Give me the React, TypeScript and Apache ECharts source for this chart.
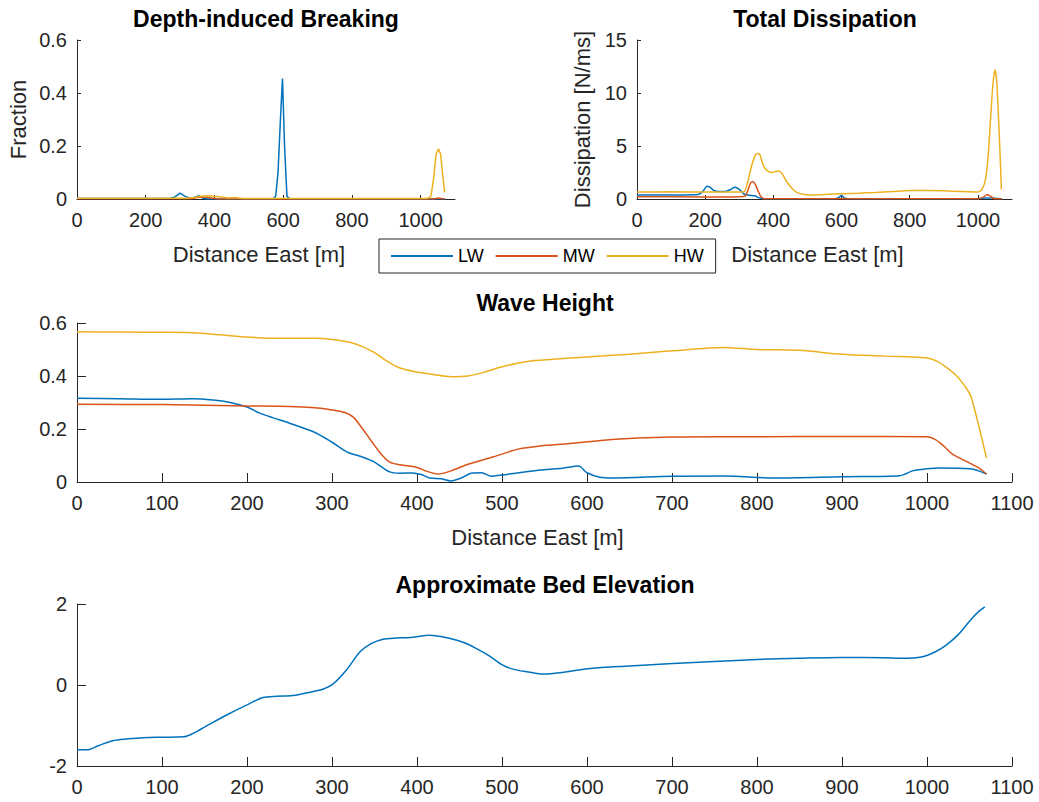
import React, { useEffect, useRef } from "react";
import * as echarts from "echarts";

// ---------- Data ----------
// Depth-induced breaking fraction
const fracLW_x = [0, 270, 285, 300, 315, 330, 345, 355, 365, 380, 570, 578, 585, 592, 598, 604, 611, 620, 1070];
const fracLW_y = [0.002, 0.002, 0.008, 0.022, 0.01, 0.002, 0.008, 0.012, 0.004, 0.0, 0.0, 0.01, 0.1, 0.3, 0.455, 0.2, 0.01, 0, 0];
const fracMW_x = [0, 330, 350, 370, 390, 410, 1040, 1050, 1060, 1070];
const fracMW_y = [0.001, 0.001, 0.006, 0.008, 0.004, 0, 0, 0.004, 0.002, 0];
const fracHW_x = [0, 320, 340, 360, 380, 400, 420, 440, 460, 480, 1020, 1030, 1038, 1045, 1052, 1058, 1065, 1070];
const fracHW_y = [0.003, 0.003, 0.006, 0.01, 0.012, 0.01, 0.008, 0.004, 0.006, 0.002, 0.002, 0.01, 0.08, 0.17, 0.189, 0.17, 0.08, 0.025];

// Total dissipation [N/ms]
const dissLW_x = [0, 100, 180, 195, 205, 215, 225, 240, 260, 275, 287, 300, 315, 330, 345, 360, 380, 580, 592, 600, 608, 620, 1000, 1020, 1040, 1070];
const dissLW_y = [0.38, 0.38, 0.42, 0.8, 1.2, 1.1, 0.8, 0.7, 0.72, 0.9, 1.1, 0.9, 0.45, 0.35, 0.3, 0.1, 0.02, 0.02, 0.15, 0.35, 0.1, 0.02, 0.02, 0.1, 0.1, 0.02];
const dissMW_x = [0, 200, 300, 318, 325, 333, 340, 348, 356, 362, 370, 380, 1000, 1015, 1026, 1036, 1046, 1070];
const dissMW_y = [0.22, 0.2, 0.22, 0.3, 0.8, 1.5, 1.65, 1.3, 0.7, 0.3, 0.05, 0.02, 0.03, 0.15, 0.4, 0.3, 0.05, 0.02];
const dissHW_x = [0, 100, 200, 300, 315, 325, 335, 345, 352, 360, 368, 375, 385, 395, 405, 415, 425, 440, 455, 470, 490, 510, 550, 600, 650, 700, 750, 800, 850, 900, 950, 1000, 1012, 1022, 1030, 1038, 1044, 1050, 1055, 1060, 1064, 1069];
const dissHW_y = [0.65, 0.68, 0.66, 0.65, 0.7, 1.6, 3.0, 4.0, 4.3, 4.2, 3.4, 2.9, 2.6, 2.5, 2.6, 2.65, 2.4, 1.6, 1.0, 0.6, 0.42, 0.38, 0.42, 0.5, 0.55, 0.62, 0.7, 0.8, 0.8, 0.77, 0.7, 0.65, 0.9, 1.8, 4.0, 8.0, 10.8, 12.2, 11.2, 8.0, 5.0, 0.9];

// Wave height [m]
const waveLW_x = [0, 50, 100, 136, 160, 180, 200, 215, 230, 250, 280, 300, 318, 335, 350, 368, 380, 395, 405, 415, 428, 440, 452, 465, 476, 487, 500, 520, 549, 571, 590, 600, 615, 630, 700, 760, 820, 900, 968, 984, 1000, 1015, 1051, 1070];
const waveLW_y = [0.316, 0.314, 0.312, 0.314, 0.309, 0.3, 0.283, 0.26, 0.243, 0.222, 0.187, 0.15, 0.113, 0.095, 0.075, 0.038, 0.033, 0.034, 0.028, 0.015, 0.012, 0.004, 0.015, 0.034, 0.035, 0.022, 0.026, 0.035, 0.046, 0.052, 0.06, 0.035, 0.018, 0.015, 0.022, 0.023, 0.015, 0.02, 0.024, 0.043, 0.05, 0.053, 0.05, 0.03];
const waveMW_x = [0, 100, 200, 250, 280, 300, 315, 325, 335, 348, 358, 368, 380, 400, 412, 425, 440, 460, 490, 520, 545, 580, 620, 660, 700, 750, 800, 900, 1000, 1010, 1020, 1030, 1045, 1060, 1070];
const waveMW_y = [0.293, 0.292, 0.287, 0.285, 0.28, 0.272, 0.262, 0.245, 0.205, 0.147, 0.105, 0.075, 0.065, 0.055, 0.04, 0.03, 0.042, 0.067, 0.095, 0.125, 0.136, 0.145, 0.158, 0.166, 0.17, 0.171, 0.171, 0.172, 0.171, 0.16, 0.135, 0.105, 0.08, 0.055, 0.03];
const waveHW_x = [0, 50, 100, 130, 160, 200, 240, 280, 300, 320, 335, 350, 365, 380, 400, 420, 440, 460, 480, 500, 530, 560, 600, 650, 700, 760, 800, 850, 900, 950, 1000, 1012, 1024, 1035, 1045, 1052, 1070];
const waveHW_y = [0.567, 0.566, 0.565, 0.564, 0.558, 0.547, 0.542, 0.542, 0.538, 0.528, 0.512, 0.488, 0.455, 0.43, 0.415, 0.405, 0.397, 0.4, 0.415, 0.435, 0.455, 0.463, 0.472, 0.482, 0.495, 0.508, 0.5, 0.497, 0.482, 0.475, 0.468, 0.455, 0.43, 0.4, 0.36, 0.32, 0.09];

// Approximate bed elevation [m]
const bed_x = [0, 12, 25, 42, 60, 78, 100, 125, 137, 155, 176, 200, 219, 235, 254, 278, 290, 301, 317, 333, 346, 360, 375, 392, 415, 439, 455, 470, 485, 501, 515, 529, 549, 568, 604, 650, 701, 750, 800, 850, 898, 950, 968, 995, 1010, 1023, 1037, 1051, 1060, 1068];
const bed_y = [-1.6, -1.6, -1.5, -1.375, -1.33, -1.3, -1.29, -1.28, -1.19, -0.98, -0.74, -0.49, -0.31, -0.28, -0.26, -0.16, -0.1, 0.02, 0.37, 0.82, 1.02, 1.13, 1.16, 1.17, 1.23, 1.15, 1.05, 0.9, 0.72, 0.49, 0.38, 0.33, 0.27, 0.3, 0.41, 0.47, 0.53, 0.58, 0.63, 0.66, 0.68, 0.67, 0.66, 0.7, 0.82, 0.99, 1.25, 1.6, 1.8, 1.93];

// Labels & ticks
const seriesNames = ["LW", "MW", "HW"];
const colors = ["#0072BD", "#D95319", "#EDB120"];
const topXTicks = [0, 200, 400, 600, 800, 1000];
const titles = ["Depth-induced Breaking", "Total Dissipation", "Wave Height", "Approximate Bed Elevation"];
const xName = "Distance East [m]";
const yNames = ["Fraction", "Dissipation [N/ms]"];

const zip = (xs: number[], ys: number[]) => xs.map((x, i) => [x, ys[i]]);

const FONT = '"Liberation Sans", Arial, Helvetica, sans-serif';
const AX = "#262626";
const fmt = (v: number) => String(Math.round(v * 1000) / 1000);

function xAxis(gridIndex: number, opts: any) {
  return {
    type: "value",
    gridIndex,
    min: 0,
    max: 1100,
    splitLine: { show: false },
    axisLine: { show: true, onZero: false, lineStyle: { color: AX, width: 1 } },
    axisTick: { show: true, inside: true, length: opts.tickLen, lineStyle: { color: AX } },
    axisLabel: { color: AX, fontSize: 20, fontFamily: FONT, margin: 11, formatter: fmt, ...(opts.label || {}) },
    nameTextStyle: { color: AX, fontSize: 22, fontFamily: FONT, padding: [0, 14, 0, 0] },
    nameLocation: "middle",
    nameGap: 44,
    ...opts.extra,
  };
}

function yAxis(gridIndex: number, opts: any) {
  return {
    type: "value",
    gridIndex,
    splitLine: { show: false },
    axisLine: { show: true, onZero: false, lineStyle: { color: AX, width: 1 } },
    axisTick: { show: true, inside: true, length: opts.tickLen, lineStyle: { color: AX } },
    axisLabel: { color: AX, fontSize: 20, fontFamily: FONT, margin: 10, formatter: fmt },
    nameTextStyle: { color: AX, fontSize: 22, fontFamily: FONT },
    nameLocation: "middle",
    ...opts.extra,
  };
}

export default function App() {
  const ref = useRef<HTMLDivElement>(null);
  useEffect(() => {
    if (!ref.current) return;
    const chart = echarts.init(ref.current, undefined, { renderer: "svg" });
    const lineSeries = (name: string, idx: number, colorIdx: number, data: number[][], smooth: number | boolean) => ({
      type: "line",
      name,
      xAxisIndex: idx,
      yAxisIndex: idx,
      data,
      symbol: "none",
      smooth,
      lineStyle: { color: colors[colorIdx], width: 1.5 },
      itemStyle: { color: colors[colorIdx] },
      emphasis: { disabled: true },
    });
    const topLabel = { customValues: topXTicks };
    const titleStyle = { fontSize: 23, fontWeight: "bold", color: "#000", fontFamily: FONT };
    const option: any = {
      animation: false,
      backgroundColor: "#ffffff",
      textStyle: { fontFamily: FONT },
      title: [
        { text: titles[0], left: 266, top: 7, textAlign: "center", padding: 0, textStyle: titleStyle },
        { text: titles[1], left: 825, top: 7, textAlign: "center", padding: 0, textStyle: titleStyle },
        { text: titles[2], left: 545, top: 291, textAlign: "center", padding: 0, textStyle: titleStyle },
        { text: titles[3], left: 545, top: 573, textAlign: "center", padding: 0, textStyle: titleStyle },
      ],
      legend: {
        data: seriesNames.map((n) => ({ name: n, icon: "rect" })),
        left: 379,
        top: 239,
        orient: "horizontal",
        itemWidth: 62,
        itemHeight: 2,
        itemGap: 12,
        padding: [8, 12],
        borderColor: AX,
        borderWidth: 1,
        backgroundColor: "#fff",
        selectedMode: false,
        textStyle: { fontSize: 18, color: "#000", fontFamily: FONT, lineHeight: 18 },
      },
      grid: [
        { left: 77, top: 40, width: 378, height: 159, outerBoundsMode: "none" },
        { left: 637, top: 40, width: 375, height: 159, outerBoundsMode: "none" },
        { left: 77, top: 323, width: 935, height: 159, outerBoundsMode: "none" },
        { left: 77, top: 604, width: 935, height: 162, outerBoundsMode: "none" },
      ],
      xAxis: [
        xAxis(0, { tickLen: 4, label: topLabel, extra: { name: xName, interval: 200, axisTick: { show: true, inside: true, length: 4, customValues: topXTicks, lineStyle: { color: AX } } } }),
        xAxis(1, { tickLen: 4, label: topLabel, extra: { name: xName, interval: 200, axisTick: { show: true, inside: true, length: 4, customValues: topXTicks, lineStyle: { color: AX } } } }),
        xAxis(2, { tickLen: 9, extra: { name: xName, interval: 100 } }),
        xAxis(3, { tickLen: 9, extra: { interval: 100 } }),
      ],
      yAxis: [
        yAxis(0, { tickLen: 4, extra: { min: 0, max: 0.6, interval: 0.2, name: yNames[0], nameGap: 48 } }),
        yAxis(1, { tickLen: 4, extra: { min: 0, max: 15, interval: 5, name: yNames[1], nameGap: 44 } }),
        yAxis(2, { tickLen: 9, extra: { min: 0, max: 0.6, interval: 0.2 } }),
        yAxis(3, { tickLen: 9, extra: { min: -2, max: 2, interval: 2 } }),
      ],
      series: [
        lineSeries("LW", 0, 0, zip(fracLW_x, fracLW_y), false),
        lineSeries("MW", 0, 1, zip(fracMW_x, fracMW_y), false),
        lineSeries("HW", 0, 2, zip(fracHW_x, fracHW_y), false),
        lineSeries("LW", 1, 0, zip(dissLW_x, dissLW_y), 0.2),
        lineSeries("MW", 1, 1, zip(dissMW_x, dissMW_y), 0.2),
        lineSeries("HW", 1, 2, zip(dissHW_x, dissHW_y), 0.2),
        lineSeries("LW", 2, 0, zip(waveLW_x, waveLW_y), 0.3),
        lineSeries("MW", 2, 1, zip(waveMW_x, waveMW_y), 0.3),
        lineSeries("HW", 2, 2, zip(waveHW_x, waveHW_y), 0.3),
        lineSeries("Bed", 3, 0, zip(bed_x, bed_y), 0.3),
      ],
    };
    chart.setOption(option);
    return () => chart.dispose();
  }, []);
  return (
    <div
      ref={ref}
      style={{ position: "fixed", left: 0, top: 0, width: 1039, height: 802, background: "#fff" }}
    />
  );
}
